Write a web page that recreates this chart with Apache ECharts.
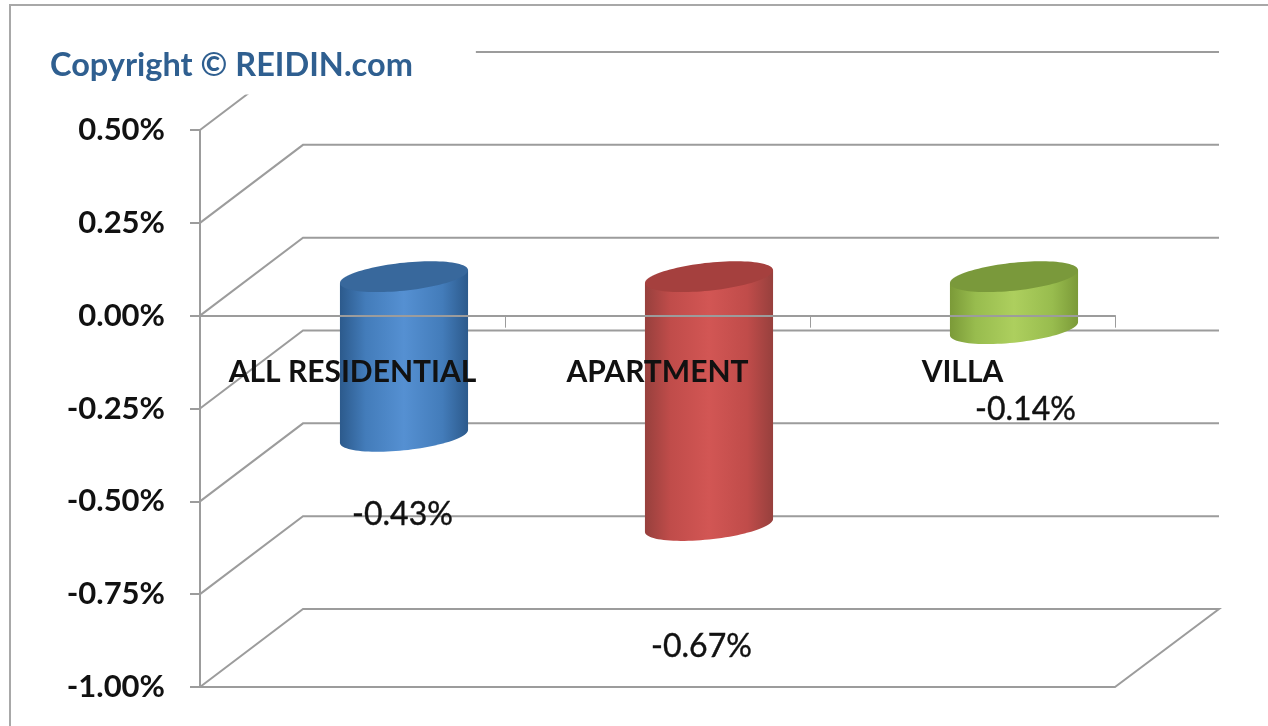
<!DOCTYPE html>
<html>
<head>
<meta charset="utf-8">
<title>REIDIN residential price change</title>
<script src="https://cdn.jsdelivr.net/npm/echarts@6/dist/echarts.min.js"></script>
<style>
    html, body { margin: 0; padding: 0; background: #fff; }
    #chart { width: 1268px; height: 726px; }
</style>
</head>
<body>
<div id="chart"></div>
<script>
const categories = ['ALL RESIDENTIAL', 'APARTMENT', 'VILLA'];
const changes = [-0.43, -0.67, -0.14];
const yTicks = [0.5, 0.25, 0, -0.25, -0.5, -0.75, -1];

// edge, shoulder, middle and top-cap colour of each cylinder
const barColors = [
    ['#2c5a8c', '#437cba', '#5590d2', '#38689c'],
    ['#97403d', '#c04c4a', '#d25654', '#a5403e'],
    ['#7b9a38', '#98bc4e', '#adcf5e', '#7a993b']
];
// the value labels were moved by hand in the original chart
const labelShift = [[50, 39], [44, 82], [63, 42]];

const GRID_COLOR = '#9c9c9c';
const FONT = 'Lato, "Open Sans", sans-serif';
const DEPTH_X = 103;
const DEPTH_Y = -78;

function ellipsePoint(cx, cy, a, t) {
    return [cx + a * Math.cos(t), cy - 6.5 * Math.cos(t) + 14 * Math.sin(t)];
}

function renderWall(params, api) {
    const y = api.coord([0, api.value(0)])[1];
    const band = api.size([1, 0])[0];
    const left = api.coord([0, 0])[0] - band / 2;
    const points = [[left, y], [left + DEPTH_X, y + DEPTH_Y], [left + band * 3 + DEPTH_X + 1, y + DEPTH_Y]];
    // the lowest gridline closes the floor
    if (params.dataIndex === yTicks.length - 1) {
        points.push([left + band * 3, y], [left, y]);
    }
    return {
        type: 'polyline',
        shape: { points },
        style: { stroke: GRID_COLOR, lineWidth: 2, fill: null }
    };
}

function renderCylinder(params, api) {
    const i = params.dataIndex;
    const zero = api.coord([i, 0]);
    const end = api.coord([i, api.value(1)]);
    const a = api.size([1, 0])[0] * 0.21;
    const cx = zero[0] + DEPTH_X / 2;
    const topY = zero[1] + DEPTH_Y / 2;
    const bottomY = end[1] + DEPTH_Y / 2;
    const body = [];
    const cap = [];
    for (let k = 0; k <= 48; k++) {
        const t = Math.PI - (Math.PI * k) / 48;
        body.push(ellipsePoint(cx, bottomY, a, t));
    }
    body.push(ellipsePoint(cx, topY, a, 0), ellipsePoint(cx, topY, a, Math.PI));
    for (let k = 0; k < 96; k++) {
        cap.push(ellipsePoint(cx, topY, a, (Math.PI * k) / 48));
    }
    const colors = barColors[i];
    return {
        type: 'group',
        children: [
            {
                type: 'polygon',
                shape: { points: body },
                style: {
                    fill: new echarts.graphic.LinearGradient(0, 0, 1, 0, [
                        { offset: 0, color: colors[0] },
                        { offset: 0.2, color: colors[1] },
                        { offset: 0.5, color: colors[2] },
                        { offset: 0.8, color: colors[1] },
                        { offset: 1, color: colors[0] }
                    ])
                }
            },
            { type: 'polygon', shape: { points: cap }, style: { fill: colors[3] } }
        ]
    };
}

function renderTexts(params, api) {
    const i = params.dataIndex;
    const zero = api.coord([i, 0]);
    const end = api.coord([i, api.value(1)]);
    return {
        type: 'group',
        children: [
            {
                type: 'text',
                style: {
                    x: zero[0],
                    y: zero[1] + 57,
                    text: categories[i],
                    fill: '#111',
                    font: '700 30px ' + FONT,
                    align: 'center',
                    verticalAlign: 'middle'
                }
            },
            {
                type: 'text',
                style: {
                    x: end[0] + labelShift[i][0],
                    y: end[1] + labelShift[i][1],
                    text: api.value(1).toFixed(2) + '%',
                    fill: '#111',
                    stroke: '#111',
                    lineWidth: 0.4,
                    font: '400 32px ' + FONT,
                    align: 'center',
                    verticalAlign: 'middle'
                }
            }
        ]
    };
}

const chart = echarts.init(document.getElementById('chart'));

chart.setOption({
    animation: false,
    backgroundColor: '#fff',
    graphic: [
        {
            type: 'polyline',
            silent: true,
            shape: { points: [[10, 800], [10, 5], [1300, 5]] },
            style: { stroke: '#a8a8a8', lineWidth: 2, fill: null }
        }
    ],
    title: {
        text: 'Copyright © REIDIN.com',
        left: 36,
        top: 30,
        padding: [26, 63, 12, 14],
        backgroundColor: '#fff',
        textStyle: {
            color: '#2f5f90',
            fontFamily: FONT,
            fontWeight: 700,
            fontSize: 32.5,
            lineHeight: 20
        }
    },
    grid: { left: 200, top: 130, width: 915, height: 557, outerBoundsMode: 'none' },
    xAxis: {
        type: 'category',
        data: categories,
        z: 5,
        axisLine: { onZero: true, lineStyle: { color: GRID_COLOR, width: 2 } },
        axisTick: { show: true, alignWithLabel: false, length: 12, lineStyle: { color: GRID_COLOR, width: 1 } },
        axisLabel: { show: false }
    },
    yAxis: {
        type: 'value',
        min: -1,
        max: 0.5,
        interval: 0.25,
        z: 5,
        splitLine: { show: false },
        axisLine: { show: true, lineStyle: { color: GRID_COLOR, width: 2 } },
        axisTick: { show: true, length: 10, lineStyle: { color: GRID_COLOR, width: 2 } },
        axisLabel: {
            margin: 35,
            padding: [3, 0, 0, 0],
            color: '#111',
            fontFamily: FONT,
            fontWeight: 700,
            fontSize: 31,
            formatter: (v) => v.toFixed(2) + '%'
        }
    },
    series: [
        {
            type: 'custom',
            name: 'walls',
            z: 1,
            silent: true,
            data: yTicks.map((v) => [v]),
            encode: { y: 0 },
            renderItem: renderWall
        },
        {
            type: 'custom',
            name: 'change',
            z: 3,
            data: changes.map((v, i) => [i, v]),
            encode: { x: 0, y: 1 },
            renderItem: renderCylinder
        },
        {
            type: 'custom',
            name: 'labels',
            z: 6,
            silent: true,
            data: changes.map((v, i) => [i, v]),
            encode: { x: 0, y: 1 },
            renderItem: renderTexts
        }
    ]
});

window.addEventListener('resize', () => chart.resize());
</script>
</body>
</html>
